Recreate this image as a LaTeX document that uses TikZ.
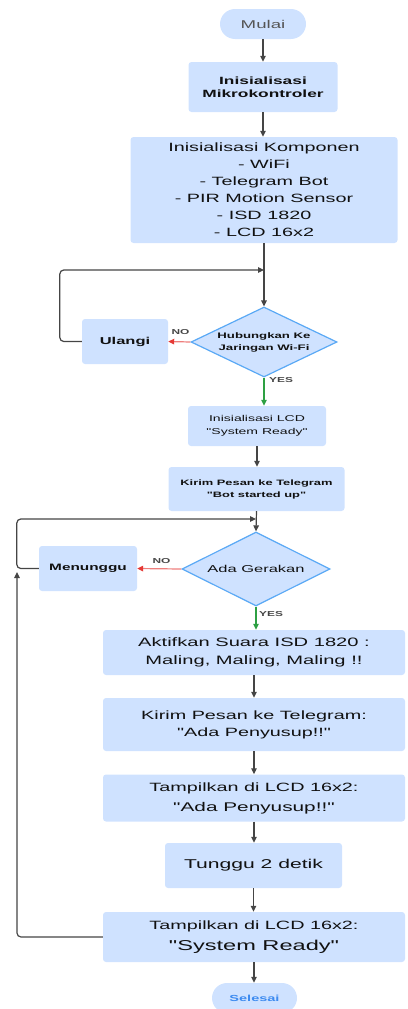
\documentclass[tikz,border=0pt]{standalone}
\usepackage{fontspec}
\setmainfont{Liberation Sans}[FakeStretch=1.65, Ligatures=TeXOff]
\usetikzlibrary{arrows.meta,shapes.geometric}
\definecolor{boxfill}{HTML}{CFE2FF}
\definecolor{diastroke}{HTML}{5AA9F5}
\definecolor{conncol}{HTML}{454545}
\definecolor{nored}{HTML}{E53935}
\definecolor{yesgreen}{HTML}{2EA043}
\definecolor{txt}{HTML}{111111}
\definecolor{starttxt}{HTML}{555555}
\definecolor{endtxt}{HTML}{3D8BF0}
\newcommand{\fs}[2]{\fontsize{#1}{#2}\selectfont}
\begin{document}
\begin{tikzpicture}[x=1pt,y=-1pt,
  proc/.style={rectangle, rounded corners=3pt, fill=boxfill, inner sep=0pt, align=center, text=txt},
  term/.style={rectangle, rounded corners=15pt, fill=boxfill, inner sep=0pt, align=center},
  dec/.style={diamond, draw=diastroke, line width=1.2pt, fill=boxfill, inner sep=0pt},
  tip/.style={-{Triangle[length=6pt,width=5.5pt]}},
  conn/.style={draw=conncol, line width=1.2pt, tip},
  noarr/.style={draw=nored!65, line width=1.2pt, -{Triangle[length=6pt,width=5.5pt,fill=nored,color=nored]}},
  yesarr/.style={draw=yesgreen, line width=1.2pt, tip},
  lbl/.style={font=\fs{7.2}{8}\bfseries, text=conncol, inner sep=0pt}
]
\useasboundingbox (0,0) rectangle (407,1009);

\node[term, minimum width=86, minimum height=30, font=\fs{11.3}{13}, text=starttxt] (mulai) at (263,24) {Mulai};
\node[proc, minimum width=149, minimum height=50, font=\fs{10.5}{13}\bfseries] (mk) at (263,87) {Inisialisasi\\Mikrokontroler};
\node[proc, minimum width=267, minimum height=106, font=\fs{12}{17}] (komp) at (264,190) {Inisialisasi Komponen\\- WiFi\\- Telegram Bot\\- PIR Motion Sensor\\- ISD 1820\\- LCD 16x2};
\node[dec, minimum width=146, minimum height=70,
  label={[font=\fs{8}{12}\bfseries, text=txt, align=center]center:{Hubungkan Ke\\Jaringan Wi-Fi}}] (d1) at (264,342) {};
\node[proc, minimum width=86, minimum height=45, font=\fs{10}{12}\bfseries] (ulangi) at (125,341.5) {Ulangi};
\node[proc, minimum width=138, minimum height=40, font=\fs{8.5}{13}] (lcd) at (257,426) {Inisialisasi LCD\\"System Ready"};
\node[proc, minimum width=176, minimum height=44, font=\fs{7.8}{12}\bfseries] (kirim) at (256.5,489) {Kirim Pesan ke Telegram\\"Bot started up"};
\node[dec, minimum width=148, minimum height=74,
  label={[font=\fs{10}{12}, text=txt]center:{Ada Gerakan}}] (d2) at (256,569) {};
\node[proc, minimum width=98, minimum height=45, font=\fs{9.3}{12}\bfseries] (tunggu0) at (88,568.5) {Menunggu};
\node[proc, minimum width=302, minimum height=45, font=\fs{12.2}{18}] (aktif) at (254,652.5) {Aktifkan Suara ISD 1820 :\\Maling, Maling, Maling !!};
\node[proc, minimum width=302, minimum height=53, font=\fs{12}{17}] (kirim2) at (254,724.5) {Kirim Pesan ke Telegram:\\"Ada Penyusup!!"};
\node[proc, minimum width=302, minimum height=47, font=\fs{12}{20}] (tampil1) at (254,798) {Tampilkan di LCD 16x2:\\{\fs{12.6}{20}"Ada Penyusup!!"}};
\node[proc, minimum width=177, minimum height=45, font=\fs{12.8}{15}] (tunggu) at (253.5,865.5) {Tunggu 2 detik};
\node[proc, minimum width=302, minimum height=50, font=\fs{12}{21}] (tampil2) at (254,937) {Tampilkan di LCD 16x2:\\{\fs{14.3}{21}"System Ready"}};
\node[term, minimum width=85, minimum height=30, font=\fs{8.8}{11}\bfseries, text=endtxt] (selesai) at (254.5,998) {Selesai};

\coordinate (j1) at (264,270);
\coordinate (j2) at (256,519);
\coordinate (j3) at (17,572);

\draw[conn] (mulai) -- (mk);
\draw[conn] (mk) -- (mk.south |- komp.north);
\draw[conn] (komp.south) -- (d1.north);
\draw[conn, rounded corners=4pt] (ulangi.west) -- ++(-22,0) |- (j1);
\draw[noarr] (d1.west) -- (ulangi.east);
\node[lbl] (no1) at (180.5,332) {NO};
\draw[yesarr] (d1.south) -- (d1.south |- lcd.north);
\node[lbl, anchor=west] (yes1) at (269,380) {YES};
\draw[conn] (lcd.south) -- (lcd.south |- kirim.north);
\draw[conn] (kirim.south) -- (d2.north);
\draw[conn, rounded corners=4pt] (tunggu0.west) -- ++(-22,0) |- (j2);
\draw[noarr] (d2.west) -- (tunggu0.east);
\node[lbl] (no2) at (161.5,561) {NO};
\draw[yesarr] (d2.south) -- (d2.south |- aktif.north);
\node[lbl, anchor=west] (yes2) at (259,614) {YES};
\draw[conn] (aktif) -- (kirim2);
\draw[conn] (kirim2) -- (tampil1);
\draw[conn] (tampil1.south) -- (tampil1.south |- tunggu.north);
\draw[conn] (tunggu.south) -- (tunggu.south |- tampil2.north);
\draw[conn] (tampil2) -- (tampil2.south |- selesai.north);
\draw[conn, rounded corners=4pt] (tampil2.west) -| (j3);
\end{tikzpicture}
\end{document}
